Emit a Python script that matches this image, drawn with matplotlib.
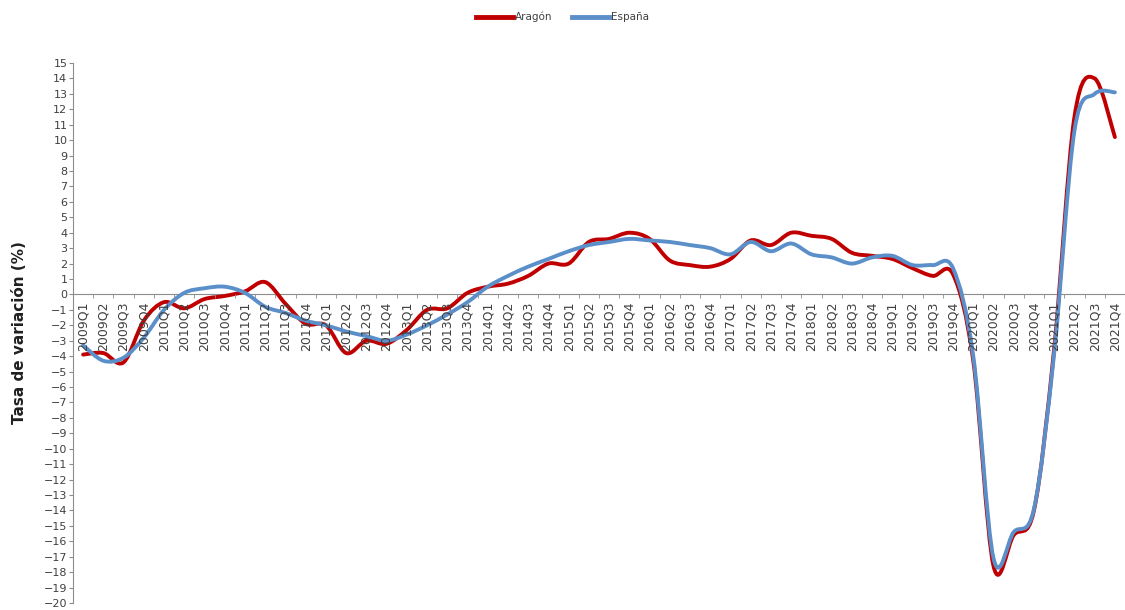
import numpy as np
import matplotlib
matplotlib.use("Agg")
from matplotlib import pyplot as plt
from matplotlib.path import Path
from matplotlib.patches import PathPatch
from matplotlib.lines import Line2D

# quarters 2009Q1 .. 2021Q4
quarters = [f"{y}Q{q}" for y in range(2009, 2022) for q in range(1, 5)]

aragon = [-3.9, -3.8, -4.4, -1.7, -0.5, -0.9, -0.3, -0.1, 0.2, 0.8, -0.6, -1.9,
          -2.0, -3.8, -3.0, -3.2, -2.3, -1.0, -0.9, 0.1, 0.5, 0.7, 1.2, 2.0,
          2.0, 3.4, 3.6, 4.0, 3.6, 2.2, 1.9, 1.8, 2.3, 3.5, 3.2, 4.0,
          3.8, 3.6, 2.7, 2.5, 2.3, 1.7, 1.2, 1.3, -4.3, -17.6, -15.6, -14.0,
          -3.5, 11.5, 14.0, 10.2]

espana = [-3.3, -4.3, -4.1, -2.8, -1.0, 0.1, 0.4, 0.5, 0.1, -0.8, -1.2, -1.7,
          -2.0, -2.4, -2.7, -3.0, -2.6, -2.0, -1.3, -0.5, 0.5, 1.2, 1.8, 2.3,
          2.8, 3.2, 3.4, 3.6, 3.5, 3.4, 3.2, 3.0, 2.6, 3.4, 2.8, 3.3,
          2.6, 2.4, 2.0, 2.4, 2.5, 1.9, 1.9, 1.7, -4.0, -17.1, -15.4, -13.9,
          -3.8, 10.6, 13.0, 13.1]


def smooth_path(x, y):
    # Excel-style smoothed line: cubic bezier through every point
    pts = np.column_stack([x, y])
    n = len(pts)
    verts = [pts[0]]
    codes = [Path.MOVETO]
    for i in range(n - 1):
        p0 = pts[max(i - 1, 0)]
        p1 = pts[i]
        p2 = pts[i + 1]
        p3 = pts[min(i + 2, n - 1)]
        c1 = p1 + (p2 - p0) / 6.0
        c2 = p2 - (p3 - p1) / 6.0
        verts += [c1, c2, p2]
        codes += [Path.CURVE4] * 3
    return Path(verts, codes)


red = '#C00000'
blue = '#5B8FC9'
grey = '#8C8C8C'

fig = plt.figure(figsize=(11.25, 6.1), dpi=100)
ax = fig.add_axes([73 / 1125, 7 / 610, 1 - 73 / 1125, 540 / 610])

x = np.arange(len(quarters))
for vals, col in [(aragon, red), (espana, blue)]:
    patch = PathPatch(smooth_path(x, vals), facecolor='none', edgecolor=col,
                      lw=2.8, capstyle='round', joinstyle='round')
    ax.add_patch(patch)

ax.set_xlim(-0.5, len(quarters) - 0.5)
ax.set_ylim(-20, 15)

ax.spines['top'].set_visible(False)
ax.spines['right'].set_visible(False)
ax.spines['bottom'].set_position(('data', 0))
ax.spines['bottom'].set_color(grey)
ax.spines['left'].set_color(grey)
ax.spines['bottom'].set_zorder(0)

ax.set_yticks(range(-20, 16))
ax.tick_params(axis='y', labelsize=8, length=3, color=grey, pad=1,
               labelcolor='#404040')

ax.set_xticks(x)
ax.set_xticklabels(quarters, rotation=90, fontsize=9, color='#404040')
ax.set_xticks(np.arange(-0.5, len(quarters)), minor=True)
ax.tick_params(axis='x', which='major', length=0, pad=5)
ax.tick_params(axis='x', which='minor', length=3, color=grey)

ax.set_ylabel("Tasa de variación (%)", fontsize=11, fontweight='bold',
              color='#202020', labelpad=12)

handles = [Line2D([], [], color=red, lw=3.5), Line2D([], [], color=blue, lw=3.5)]
fig.legend(handles, ['Aragón', 'España'], loc='center',
           bbox_to_anchor=(0.50, 1 - 17 / 610), ncol=2, frameon=False,
           fontsize=7.5, labelcolor='#404040', handlelength=3.6,
           handletextpad=0.2, columnspacing=1.8)

fig.savefig('out.png', dpi=100)
